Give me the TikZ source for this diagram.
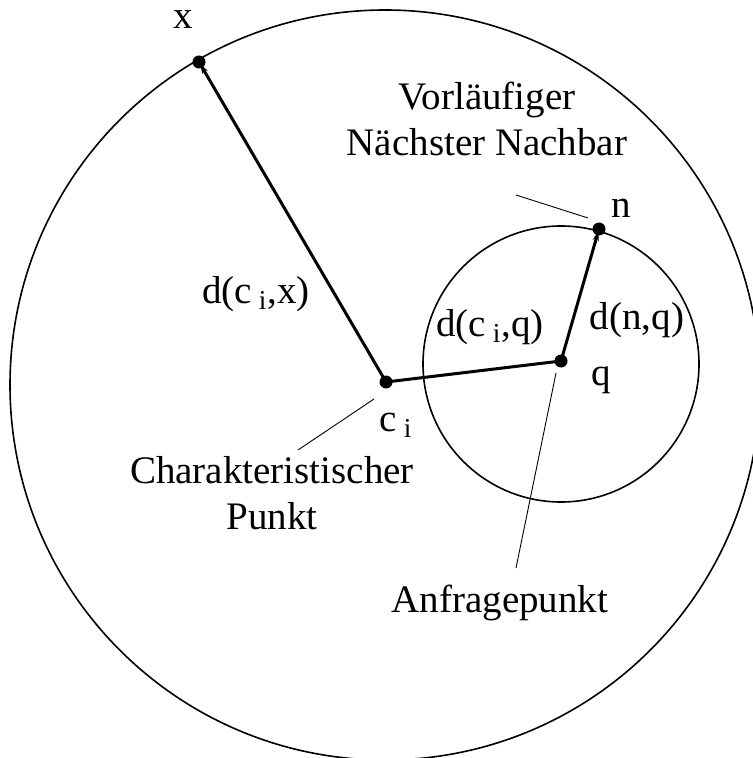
\documentclass[tikz,border=0pt]{standalone}
\usepackage{fontspec}
\setmainfont{Liberation Serif}
\usetikzlibrary{arrows.meta, positioning}

\begin{document}
\begin{tikzpicture}[x=0.5pt, y=-0.5pt,
    region/.style={circle, draw, line width=0.8pt, inner sep=0pt},
    vec/.style={line width=1.5pt},
    pointer/.style={line width=0.45pt},
    dot/.style={circle, fill, inner sep=0pt, minimum size=6.5pt},
    lbl/.style={font=\fontsize{19.5}{23}\selectfont, inner sep=1pt, align=center}
  ]
    \useasboundingbox (0,0) rectangle (752,758);

    % Regions
    \node[region, minimum size=375pt] (space) at (385,385) {};
    \node[region, minimum size=138pt] (ball) at (561,364) {};

    % Points
    \node[dot] (ci) at (386,382) {};
    \node[dot] (q) at (561,361) {};
    \node[dot] (n) at (599,229) {};
    \node[dot] (x) at (199,62) {};

    % Distances
    \draw[vec, -{Stealth[length=5pt, width=3pt]}, shorten >=1pt] (ci.center) -- (x.center);
    \draw[vec, -{Stealth[length=5pt, width=3pt]}, shorten >=1pt] (q.center) -- (n.center);
    \draw[vec] (ci.center) -- (q.center);

    % Point labels
    \node[lbl] (xl) at (183,20) {x};
    \node[lbl] (nl) at (621,208) {n};
    \node[lbl] (ql) at (601,380) {q};
    \node[lbl] (cil) at (396,425) {c\textsubscript{ i}};

    % Distance labels
    \node[lbl] (dcx) at (256,294) {d(c\textsubscript{ i},x)};
    \node[lbl] (dcq) at (490,327) {d(c\textsubscript{ i},q)};
    \node[lbl] (dnq) at (637,320) {d(n,q)};

    % Descriptions
    \node[lbl] (vnn) at (487,119) {Vorläufiger\\Nächster Nachbar};
    \node[lbl] (chp) at (272,493) {Charakteristischer\\Punkt};
    \node[lbl] (anf) at (500,603) {Anfragepunkt};

    % Pointer lines
    \coordinate (vnnA) at (516,195);
    \coordinate (vnnB) at (588,218);
    \coordinate (chpA) at (298,450);
    \coordinate (chpB) at (374,399);
    \coordinate (anfA) at (516,568);
    \coordinate (anfB) at (556,373);
    \draw[pointer] (vnnA) -- (vnnB);
    \draw[pointer] (chpA) -- (chpB);
    \draw[pointer] (anfA) -- (anfB);

\end{tikzpicture}
\end{document}
